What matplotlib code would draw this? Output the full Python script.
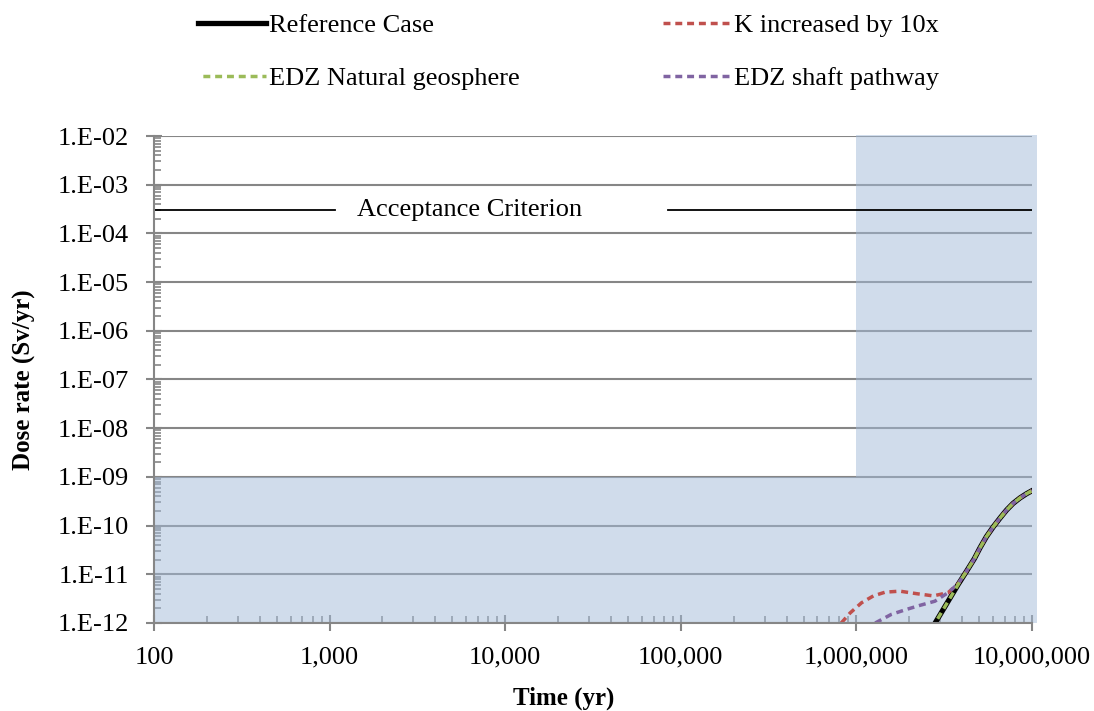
import math
import matplotlib
matplotlib.use("Agg")
import matplotlib.pyplot as plt
from matplotlib.ticker import LogLocator, FuncFormatter, NullFormatter

plt.rcParams['font.family'] = ['Liberation Serif', 'DejaVu Serif']

# data
ref_time = [2.81e6, 3.27e6, 3.80e6, 4.25e6, 4.70e6, 5.06e6, 5.5e6, 6.03e6, 6.6e6,
            7.18e6, 7.8e6, 8.55e6, 9.3e6, 1.0e7]
ref_dose = [1.0e-12, 2.5e-12, 6.2e-12, 1.17e-11, 2.1e-11, 3.5e-11, 5.9e-11, 9.5e-11, 1.45e-10,
            2.1e-10, 2.85e-10, 3.7e-10, 4.5e-10, 5.2e-10]

k10_time = [8.2e5, 9.2e5, 1.07e6, 1.25e6, 1.46e6, 1.77e6, 2.2e6, 2.74e6, 3.33e6,
            3.80e6] + ref_time[3:]
k10_dose = [1.0e-12, 1.6e-12, 2.6e-12, 3.6e-12, 4.3e-12, 4.5e-12, 4.0e-12, 3.6e-12, 4.2e-12,
            6.4e-12] + ref_dose[3:]

edz_nat_time = ref_time
edz_nat_dose = ref_dose

shaft_time = [1.28e6, 1.58e6, 1.93e6, 2.3e6, 2.8e6, 3.33e6, 3.80e6] + ref_time[3:]
shaft_dose = [1.0e-12, 1.5e-12, 1.9e-12, 2.3e-12, 2.8e-12, 4.2e-12, 6.4e-12] + ref_dose[3:]

acceptance = 3e-4
acc_gap = (1.07e3, 8.45e4)   # where the criterion line is broken for the label
acc_label_x = 6.3e3

fig = plt.figure(figsize=(10.94, 7.11), dpi=100)
ax = fig.add_axes([0.1408, 0.1238, 0.8025, 0.6849])
ax.set_xscale('log')
ax.set_yscale('log')
ax.set_xlim(1e2, 1e7)
ax.set_ylim(1e-12, 1e-2)

# grid lines
for e in range(-12, -1):
    ax.axhline(10.0 ** e, color='#868686', lw=1.5, zorder=1)

# shaded zones
shade = '#a3bbd9'
ax.axhspan(1e-12, 1e-9, xmin=0, xmax=1.006, color=shade, alpha=0.5, lw=0, zorder=2, clip_on=False)
ax.axvspan(1e6, 1.067e7, ymin=0.3, ymax=1.002, color=shade, alpha=0.5, lw=0, zorder=2, clip_on=False)

# acceptance criterion
ax.plot([1e2, acc_gap[0]], [acceptance, acceptance], color='black', lw=1.3, zorder=3)
ax.plot([acc_gap[1], 1e7], [acceptance, acceptance], color='black', lw=1.3, zorder=3)
ax.text(acc_label_x, acceptance, 'Acceptance Criterion', fontsize=19,
        ha='center', va='center', zorder=3)

dash = (0, (2, 1.4))
l_ref, = ax.plot(ref_time, ref_dose, color='black', lw=3.8, label='Reference Case', zorder=4)
l_k, = ax.plot(k10_time, k10_dose, color='#c0504d', lw=2.5, ls=dash,
               label='K increased by 10x', zorder=5)
l_sh, = ax.plot(shaft_time, shaft_dose, color='#8064a2', lw=2.5, ls=dash,
                label='EDZ shaft pathway', zorder=6)
l_nat, = ax.plot(edz_nat_time, edz_nat_dose, color='#9bbb59', lw=2.5, ls=(2, (2, 1.4)),
                 label='EDZ Natural geosphere', zorder=7)

# axes styling
for s in ['top', 'right']:
    ax.spines[s].set_visible(False)
for s in ['left', 'bottom']:
    ax.spines[s].set_color('#868686')
    ax.spines[s].set_linewidth(1.5)
    ax.spines[s].set_zorder(8)

ax.xaxis.set_major_locator(LogLocator(base=10, numticks=20))
ax.xaxis.set_minor_locator(LogLocator(base=10, subs=range(2, 10), numticks=100))
ax.yaxis.set_major_locator(LogLocator(base=10, numticks=20))
ax.yaxis.set_minor_locator(LogLocator(base=10, subs=range(2, 10), numticks=100))
ax.xaxis.set_major_formatter(FuncFormatter(lambda v, p: '{:,.0f}'.format(v)))
ax.yaxis.set_major_formatter(FuncFormatter(lambda v, p: '1.E-%02d' % round(-math.log10(v))))
ax.xaxis.set_minor_formatter(NullFormatter())
ax.yaxis.set_minor_formatter(NullFormatter())
ax.tick_params(which='major', direction='inout', length=12, width=1.5, color='#868686', labelsize=19)
ax.tick_params(which='minor', direction='in', length=5, width=1.2, color='#868686')
ax.tick_params(axis='x', which='major', pad=11)
ax.tick_params(axis='y', which='major', pad=12)

ax.set_xlabel('Time (yr)', fontsize=18, fontweight='bold', va='center')
ax.set_ylabel('Dose rate (Sv/yr)', fontsize=18, fontweight='bold', va='center')
ax.xaxis.set_label_coords(0.467, -0.154)
ax.yaxis.set_label_coords(-0.148, 0.5)

fig.legend(handles=[l_ref, l_nat, l_k, l_sh], ncol=2, loc='upper left',
           bbox_to_anchor=(0.1595, 1.014), frameon=False, fontsize=19,
           handlelength=2.55, handletextpad=0.15, columnspacing=5.4, labelspacing=1.1)

fig.savefig('out.png', dpi=100)
